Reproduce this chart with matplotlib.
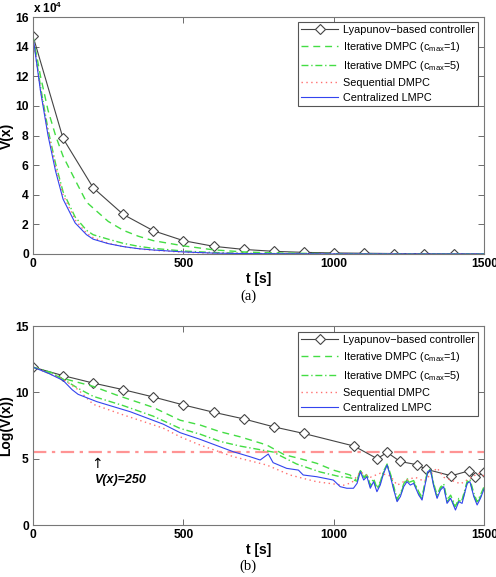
import numpy as np
from matplotlib import pyplot as plt

# ---- panel (a): V(x), units of 1e4 ----
t_lyap_a = [0, 100, 200, 300, 400, 500, 600, 700, 800, 900, 1000, 1100, 1200, 1300, 1400, 1500]
v_lyap_a = [14.72, 7.8, 4.47, 2.67, 1.57, 0.9, 0.52, 0.31, 0.18, 0.11, 0.07, 0.05, 0.03, 0.02, 0.015, 0.01]

t_a = [0, 25, 50, 75, 100, 140, 178, 200, 250, 300, 350, 400, 500, 600, 700, 800, 1000, 1500]
v_it1_a = [14.7, 12.0, 9.7, 8.0, 6.6, 5.0, 3.5, 3.1, 2.2, 1.6, 1.2, 0.9, 0.55, 0.28, 0.14, 0.07, 0.02, 0.003]
v_it5_a = [14.7, 11.3, 8.4, 6.1, 4.2, 2.5, 1.6, 1.3, 1.0, 0.72, 0.52, 0.38, 0.2, 0.1, 0.05, 0.025, 0.01, 0.002]
v_seq_a = [14.7, 11.1, 8.2, 5.9, 4.0, 2.3, 1.4, 1.1, 0.72, 0.5, 0.35, 0.25, 0.12, 0.05, 0.03, 0.015, 0.005, 0.001]
v_cen_a = [14.7, 11.0, 8.0, 5.6, 3.7, 2.1, 1.3, 1.0, 0.7, 0.5, 0.36, 0.27, 0.14, 0.06, 0.03, 0.015, 0.005, 0.001]

# ---- panel (b): log V(x) ----
t_lyap_b = [0, 100, 200, 300, 400, 500, 600, 700, 800, 900, 1067, 1144, 1177, 1220, 1277, 1307, 1390, 1450, 1470, 1500]
l_lyap_b = [11.9, 11.26, 10.7, 10.2, 9.65, 9.05, 8.5, 8.0, 7.4, 6.9, 5.95, 5.0, 5.47, 4.79, 4.54, 4.2, 3.71, 4.09, 3.6, 3.96]

t_cen_b = [0, 50, 100, 130, 150, 212, 323, 433, 489, 555, 666, 721, 755, 782, 798, 843, 882, 898, 943,
           998, 1021, 1043, 1065, 1077, 1088, 1099, 1110, 1121, 1132, 1143, 1154, 1165, 1177, 1188, 1199,
           1210, 1221, 1232, 1243, 1254, 1265, 1282, 1293, 1304, 1312, 1321, 1332, 1343, 1354, 1365, 1376,
           1388, 1404, 1415, 1426, 1443, 1452, 1465, 1476, 1487, 1500]
l_cen_b = [11.9, 11.45, 10.9, 10.2, 9.85, 9.3, 8.54, 7.6, 6.96, 6.46, 5.52, 5.15, 4.9, 5.35, 4.7, 4.27, 4.14, 3.77, 3.64,
           3.39, 2.89, 2.77, 2.77, 3.14, 4.02, 3.39, 3.64, 2.77, 3.27, 2.51, 3.01, 3.89, 4.52, 3.64, 2.64,
           1.76, 2.14, 2.89, 3.27, 3.01, 3.14, 2.26, 1.88, 3.14, 4.02, 4.15, 2.89, 2.01, 2.64, 2.89, 1.63,
           2.01, 1.13, 1.76, 1.63, 3.14, 3.27, 2.14, 1.51, 2.01, 2.77]

t_it5_b = [0, 60, 100, 150, 200, 300, 400, 489, 555, 622, 688, 798, 876, 954, 1021, 1043, 1065, 1077, 1088,
           1099, 1110, 1121, 1132, 1143, 1154, 1165, 1177, 1188, 1199, 1210, 1221, 1232, 1243, 1254, 1265,
           1282, 1293, 1304, 1312, 1321, 1332, 1343, 1354, 1365, 1376, 1388, 1404, 1415, 1426, 1443, 1452,
           1465, 1476, 1487, 1500]
l_it5_b = [11.9, 11.5, 11.0, 10.3, 9.7, 9.0, 8.2, 7.28, 6.85, 6.3, 5.95, 5.5, 4.6, 4.0, 3.64, 3.6, 3.5, 3.4, 4.15,
           3.6, 3.85, 3.0, 3.5, 2.8, 3.25, 4.05, 4.6, 3.85, 2.9,
           2.0, 2.35, 3.1, 3.5, 3.25, 3.35, 2.5, 2.1, 3.35, 4.1, 4.2, 3.1, 2.25, 2.85, 3.1, 1.9,
           2.25, 1.4, 2.0, 1.9, 3.3, 3.45, 2.4, 1.75, 2.25, 2.95]

t_it1_b = [0, 100, 200, 277, 398, 489, 555, 622, 688, 777, 835, 888, 943, 998, 1054, 1065, 1077, 1088,
           1099, 1110, 1121, 1132, 1143, 1154, 1165, 1177, 1188, 1199, 1210, 1221, 1232, 1243, 1254, 1265,
           1282, 1293, 1304, 1312, 1321, 1332, 1343, 1354, 1365, 1376, 1388, 1404, 1415, 1426, 1443, 1452,
           1465, 1476, 1487, 1500]
l_it1_b = [11.9, 11.05, 10.45, 9.8, 8.88, 7.9, 7.54, 7.03, 6.65, 6.03, 5.3, 5.0, 4.65, 4.14, 3.77, 3.4, 3.3, 4.1,
           3.5, 3.75, 2.9, 3.4, 2.65, 3.15, 3.95, 4.55, 3.75, 2.75,
           1.85, 2.25, 3.0, 3.4, 3.15, 3.25, 2.35, 2.0, 3.25, 4.05, 4.15, 3.0, 2.1, 2.75, 3.0, 1.75,
           2.1, 1.25, 1.85, 1.75, 3.2, 3.35, 2.25, 1.6, 2.1, 2.85]

t_seq_b = [0, 100, 150, 200, 300, 433, 489, 555, 666, 777, 854, 943, 1032, 1060, 1088, 1121, 1154, 1188,
           1210, 1243, 1270, 1300, 1321, 1343, 1365, 1388, 1421, 1450, 1480, 1500]
l_seq_b = [11.9, 11.0, 10.2, 9.1, 8.3, 7.3, 6.65, 6.03, 5.15, 4.52, 3.77, 3.26, 3.0, 3.2, 4.0, 3.6, 3.9, 3.7,
           3.0, 3.4, 3.6, 3.3, 3.8, 4.3, 3.6, 3.4, 3.1, 3.5, 3.9, 3.7]

v_ref = 250.0
labels = ['Lyapunov\u2212based controller', 'Iterative DMPC (c$_{\\mathregular{max}}$=1)',
          'Iterative DMPC (c$_{\\mathregular{max}}$=5)', 'Sequential DMPC', 'Centralized LMPC']

plt.rcParams['font.family'] = ['Liberation Sans', 'DejaVu Sans']
plt.rcParams['mathtext.fontset'] = 'custom'
plt.rcParams['mathtext.rm'] = 'Liberation Sans'

gray = '#444444'
green = '#44dd44'
blue = '#3344ee'
red = '#ff6f6f'

fig = plt.figure(figsize=(4.96, 5.77), dpi=100)
ax1 = fig.add_axes([0.0665, 0.5598, 0.910, 0.4107])
ax2 = fig.add_axes([0.0665, 0.0901, 0.910, 0.3449])


def draw(ax, tl, vl, t1, v1, t5, v5, ts, vs, tc, vc, nmark):
    ax.plot(tl, vl, color=gray, lw=0.8, marker='D', ms=5, mfc='white', mec=gray, mew=0.8,
            markevery=list(range(nmark)), label=labels[0])
    ax.plot(t1, v1, color=green, lw=1.0, dashes=(5, 3.5), label=labels[1])
    ax.plot(t5, v5, color=green, lw=1.0, dashes=(5, 2, 1, 2), label=labels[2])
    ax.plot(ts, vs, color=red, lw=1.0, dashes=(1, 2.5), label=labels[3])
    ax.plot(tc, vc, color=blue, lw=0.8, label=labels[4])


def style(ax, bbox_y):
    ax.set_xlim(0, 1500)
    ax.set_xticks([0, 500, 1000, 1500])
    ax.tick_params(direction='in', top=True, right=True, length=4, width=0.6,
                   labelsize=8.7, pad=3, color='#555555')
    for lab in ax.get_xticklabels() + ax.get_yticklabels():
        lab.set_fontweight('bold')
    for sp in ax.spines.values():
        sp.set_color('#777777')
        sp.set_linewidth(0.8)
    ax.set_xlabel('t [s]', fontsize=10, fontweight='bold', labelpad=1)
    ax.yaxis.set_label_coords(-0.043, 0.5)
    leg = ax.legend(loc='upper right', bbox_to_anchor=(0.987, bbox_y), borderaxespad=0,
                    fontsize=7.8, fancybox=False, framealpha=1, edgecolor='#555555',
                    handlelength=3.4, handletextpad=0.5, labelspacing=0.45, borderpad=0.3)
    leg.get_frame().set_linewidth(0.8)


draw(ax1, t_lyap_a, v_lyap_a, t_a, v_it1_a, t_a, v_it5_a, t_a, v_seq_a, t_a, v_cen_a, 15)
ax1.set_ylim(0, 16)
ax1.set_yticks(np.arange(0, 17, 2))
ax1.set_ylabel('V(x)', fontsize=10, fontweight='bold')
ax1.text(0, 1.015, 'x 10$^{\\mathregular{4}}$', transform=ax1.transAxes, fontsize=8.5, fontweight='bold')
style(ax1, 0.979)

ax2.axhline(np.log(v_ref), color='#ff9494', lw=1.6, dashes=(6, 2.5, 1.5, 2.5))
draw(ax2, t_lyap_b, l_lyap_b, t_it1_b, l_it1_b, t_it5_b, l_it5_b, t_seq_b, l_seq_b, t_cen_b, l_cen_b,
     len(t_lyap_b))
ax2.set_ylim(0, 15)
ax2.set_yticks([0, 5, 10, 15])
ax2.set_ylabel('Log(V(x))', fontsize=10, fontweight='bold')
ax2.text(213, 4.6, '\u2191', fontsize=10, ha='center', va='center', family='DejaVu Sans')
ax2.text(205, 3.4, 'V(x)=250', fontsize=9, style='italic', fontweight='bold', va='center')
style(ax2, 0.97)

fig.text(0.5, 0.487, '(a)', ha='center', va='center', fontsize=10.5, family='Liberation Serif')
fig.text(0.5, 0.019, '(b)', ha='center', va='center', fontsize=10.5, family='Liberation Serif')

fig.savefig('out.png', dpi=100)
